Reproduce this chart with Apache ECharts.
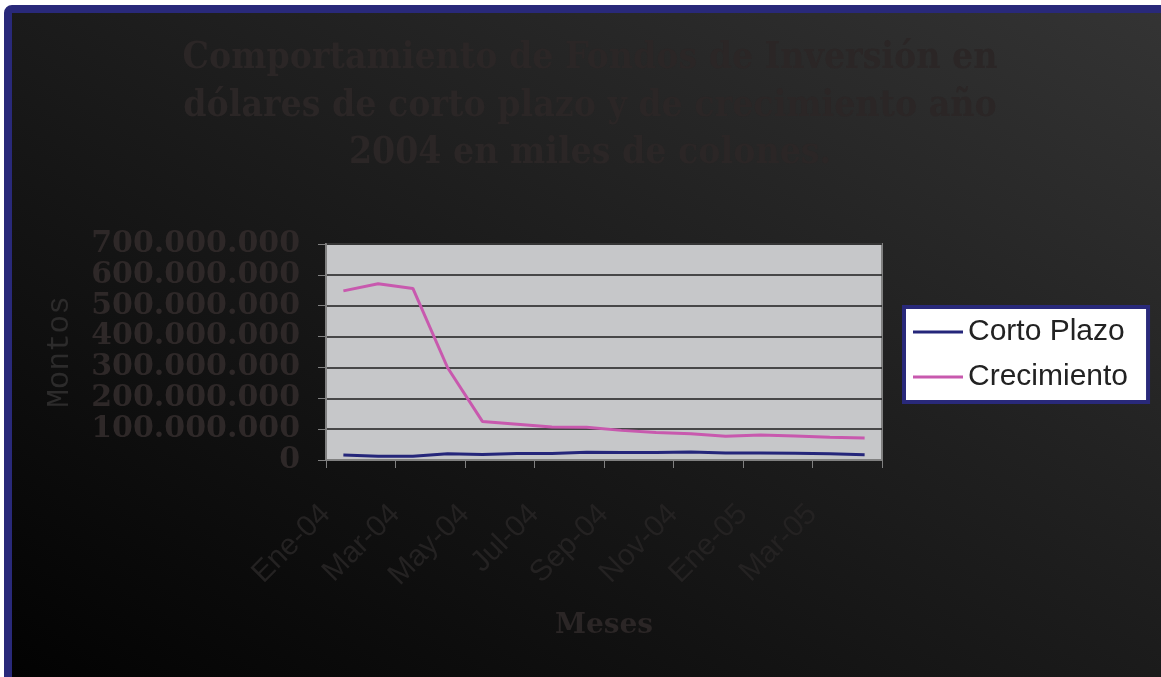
<!DOCTYPE html>
<html>
<head>
<meta charset="utf-8">
<script src="https://cdn.jsdelivr.net/npm/echarts@6/dist/echarts.min.js"></script>
<style>
  html, body { margin: 0; padding: 0; background: #ffffff; }
  #chart { width: 1161px; height: 677px; }
</style>
</head>
<body>
<div id="chart"></div>
<script>
// meses (2004-2005)
const months = ['Ene-04', 'Feb-04', 'Mar-04', 'Abr-04', 'May-04', 'Jun-04', 'Jul-04', 'Ago-04',
                'Sep-04', 'Oct-04', 'Nov-04', 'Dic-04', 'Ene-05', 'Feb-05', 'Mar-05', 'Abr-05'];
// montos en miles de colones
const cortoPlazo = [16000000, 12000000, 12000000, 20000000, 18000000, 21000000, 21000000, 25000000,
                    24000000, 24000000, 26000000, 23000000, 23000000, 22000000, 20000000, 17000000];
const crecimiento = [548000000, 571000000, 556000000, 299000000, 125000000, 116000000, 107000000, 106000000,
                     96000000, 89000000, 85000000, 77000000, 81000000, 78000000, 74000000, 71000000];
const seriesNames = ['Corto Plazo', 'Crecimiento'];
const titleText = 'Comportamiento de Fondos de Inversión en\ndólares de corto plazo y de crecimiento año\n2004 en miles de colones.';

const dark = '#2b2626';

function puntos(v) {
    return String(v).replace(/\B(?=(\d{3})+(?!\d))/g, '.');
}

const chart = echarts.init(document.getElementById('chart'), null, {renderer: 'canvas'});
chart.setOption({
    animation: false,
    backgroundColor: '#ffffff',
    graphic: [
        {
            // fondo degradado con borde azul
            type: 'rect', z: -10, silent: true,
            shape: {x: 8, y: 9, width: 1170, height: 680, r: 4},
            style: {
                fill: {
                    type: 'linear', global: true,
                    x: 285, y: 843, x2: 875, y2: -167,
                    colorStops: [
                        {offset: 0, color: '#020202'},
                        {offset: 0.5, color: '#1b1b1b'},
                        {offset: 1, color: '#343434'}
                    ]
                },
                stroke: '#29297a',
                lineWidth: 8
            }
        },
        {
            type: 'text', x: 590, y: 35, silent: true,
            style: {
                text: titleText,
                align: 'center',
                verticalAlign: 'top',
                lineHeight: 47.5,
                font: 'bold 37px "DejaVu Serif Condensed", "Liberation Serif", serif',
                fill: dark
            }
        }
    ],
    grid: {
        left: 326, right: 279, top: 244, bottom: 217,
        show: true,
        backgroundColor: '#c6c7c9',
        borderColor: '#808080',
        borderWidth: 2
    },
    legend: {
        data: seriesNames,
        orient: 'vertical',
        left: 904, top: 307,
        padding: [10, 20, 10, 9],
        icon: 'rect',
        itemWidth: 50,
        itemHeight: 3,
        itemGap: 15,
        backgroundColor: '#ffffff',
        borderColor: '#29297a',
        borderWidth: 4,
        textStyle: {
            fontFamily: 'Liberation Sans',
            fontSize: 30,
            lineHeight: 30,
            color: '#222222'
        }
    },
    xAxis: {
        type: 'category',
        data: months,
        boundaryGap: true,
        name: 'Meses',
        nameLocation: 'middle',
        nameGap: 152,
        nameTextStyle: {
            fontFamily: 'DejaVu Serif',
            fontWeight: 'bold',
            fontSize: 28,
            color: dark
        },
        axisLine: {show: true, lineStyle: {color: '#808080', width: 2}},
        axisTick: {show: true, interval: 1, length: 8, lineStyle: {color: '#808080'}},
        axisLabel: {
            interval: 1,
            rotate: 45,
            margin: 32,
            padding: [0, 25, 0, 0],
            fontFamily: 'Liberation Sans',
            fontSize: 30,
            color: '#242222'
        },
        splitLine: {show: false}
    },
    yAxis: {
        type: 'value',
        min: 0,
        max: 700000000,
        interval: 100000000,
        name: 'Montos',
        nameLocation: 'middle',
        nameGap: 251,
        nameRotate: 90,
        nameTextStyle: {
            fontFamily: 'Liberation Mono',
            fontSize: 31,
            color: '#2c2b2b'
        },
        axisLine: {show: true, lineStyle: {color: '#808080', width: 2}},
        axisTick: {show: true, length: 8, lineStyle: {color: '#808080'}},
        axisLabel: {
            margin: 26,
            formatter: puntos,
            fontFamily: 'DejaVu Serif',
            fontWeight: 'bold',
            fontSize: 30,
            color: '#2e2828'
        },
        splitLine: {show: true, lineStyle: {color: '#1c1c1c', width: 1.5}}
    },
    series: [
        {
            name: seriesNames[0],
            type: 'line',
            data: cortoPlazo,
            symbol: 'none',
            lineStyle: {color: '#25267a', width: 3},
            itemStyle: {color: '#25267a'}
        },
        {
            name: seriesNames[1],
            type: 'line',
            data: crecimiento,
            symbol: 'none',
            lineStyle: {color: '#c859ae', width: 3},
            itemStyle: {color: '#c859ae'}
        }
    ]
});
</script>
</body>
</html>
